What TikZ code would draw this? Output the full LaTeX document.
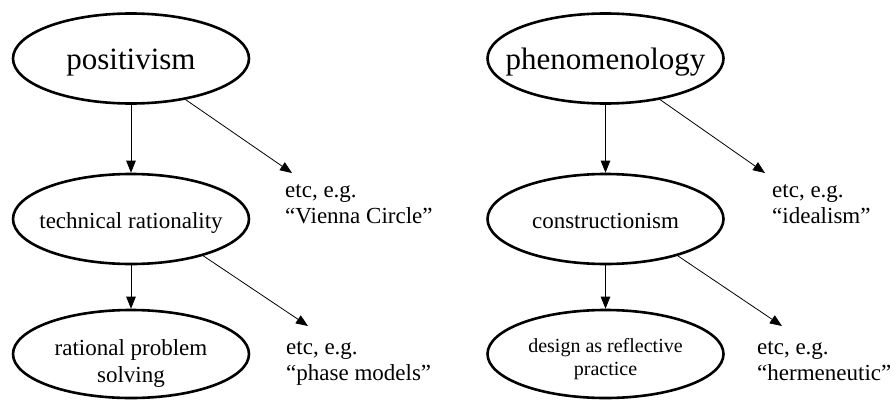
\documentclass[tikz,border=0pt]{standalone}
\usepackage{fontspec}
\setmainfont{Liberation Serif}
\usetikzlibrary{arrows.meta,shapes.geometric}
\newcommand\ovtext[2]{\raisebox{-#1}[\height][\depth]{\begin{tabular}{@{}c@{}}#2\end{tabular}}}
\begin{document}
\begin{tikzpicture}[x=1pt,y=1pt,
  oval/.style={draw, ellipse, line width=2.6pt, minimum width=236pt, minimum height=90pt, inner sep=-40pt},
  big/.style={font=\fontsize{31}{36}\selectfont},
  mid/.style={font=\fontsize{23}{27}\selectfont},
  small/.style={font=\fontsize{20}{23}\selectfont},
  arr/.style={-{Triangle[length=12pt,width=9.5pt]}, line width=0.8pt},
  note/.style={anchor=base west, align=left, inner sep=0pt, font=\fontsize{23}{26}\selectfont}]
\useasboundingbox (0,0) rectangle (890,400);
% left column
\node[oval, big] (pos) at (131,341.5) {\ovtext{4pt}{positivism}};
\node[oval, mid] (tech) at (131,181) {\ovtext{4.5pt}{technical rationality}};
\node[oval, mid, minimum height=88pt] (rps) at (131,46) {\ovtext{10pt}{rational problem\\solving}};
% right column
\node[oval, big] (phen) at (605.5,341.5) {\ovtext{4pt}{phenomenology}};
\node[oval, mid] (cons) at (605.5,181) {\ovtext{4pt}{constructionism}};
\node[oval, small, minimum height=88pt] (des) at (605.5,46) {\ovtext{5pt}{design as reflective\\practice}};
% notes (anchored at the baseline of the last line)
\node[note] (nv) at (285,177) {etc, e.g.\\``Vienna Circle''};
\node[note] (np) at (286,20) {etc, e.g.\\``phase models''};
\node[note] (ni) at (772,177) {etc, e.g.\\``idealism''};
\node[note] (nh) at (757,20) {etc, e.g.\\``hermeneutic''};
% arrow tips
\coordinate (tv) at (292,227);
\coordinate (tp) at (308,74);
\coordinate (ti) at (765,227);
\coordinate (th) at (782,74);
% connectors
\draw[arr] (pos) -- (tech);
\draw[arr] (tech) -- (rps);
\draw[arr] (phen) -- (cons);
\draw[arr] (cons) -- (des);
\draw[arr] (pos.-37) -- (tv);
\draw[arr] (tech.-27) -- (tp);
\draw[arr] (phen.-37) -- (ti);
\draw[arr] (cons.-27) -- (th);
\end{tikzpicture}
\end{document}
